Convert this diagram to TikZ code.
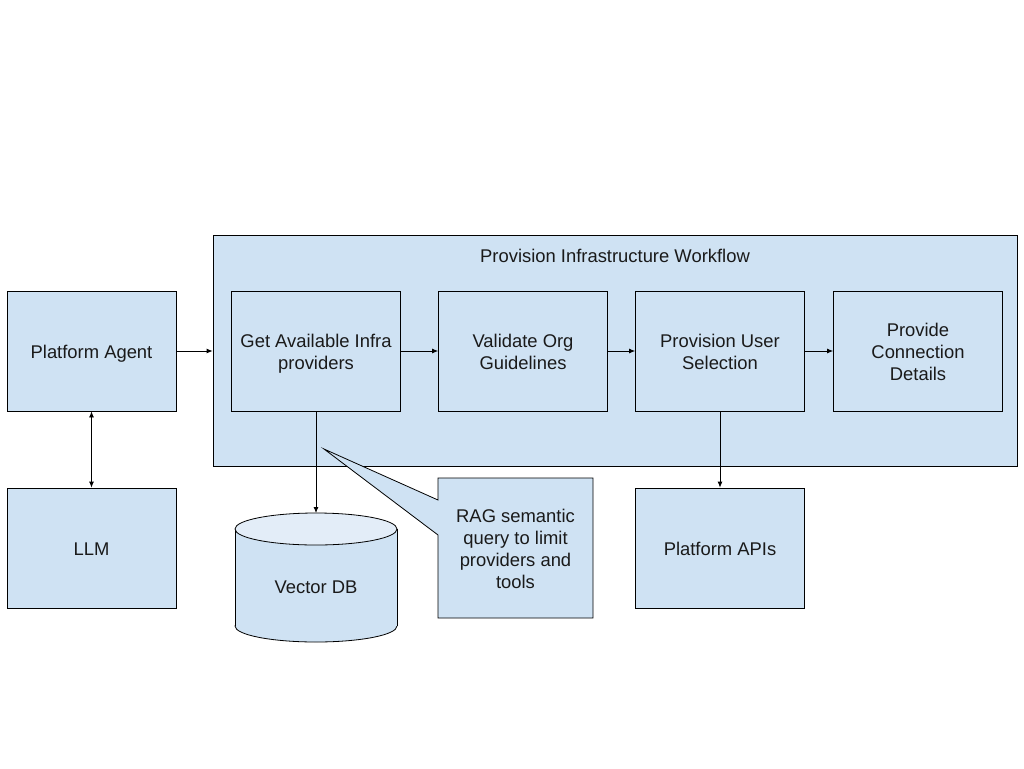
\documentclass[tikz,border=0pt]{standalone}
\usepackage{fontspec}
\setmainfont{Liberation Sans}
\usetikzlibrary{arrows.meta}
\definecolor{boxfill}{HTML}{CFE2F3}
\definecolor{topfill}{HTML}{E3EDF8}
\definecolor{txt}{HTML}{1A1A1A}
\newcommand\gstrut{\rule[-3.9pt]{0pt}{20.5pt}}
\begin{document}
\begin{tikzpicture}[x=1pt,y=-1pt,
  txtfont/.style={text=txt, font=\fontsize{18.4}{22}\selectfont,
    execute at begin node=\gstrut, execute at end node=\gstrut},
  box/.style={draw, fill=boxfill, line width=0.8pt, minimum width=169pt, minimum height=120pt,
    inner sep=0pt},
  container/.style={draw, fill=boxfill, line width=0.8pt, minimum width=804pt, minimum height=231pt, inner sep=0pt},
  lbl/.style={inner sep=0pt, align=center, txtfont},
  arr/.style={line width=0.8pt, -{Latex[length=6pt,width=5pt]}},
  darr/.style={line width=0.8pt, {Latex[length=6pt,width=5pt]}-{Latex[length=6pt,width=5pt]}}
]
\useasboundingbox (0,0) rectangle (1024,768);

% container
\node[container] (wf) at (615,350.5) {};
\node[lbl] (wftitle) at (615,256) {Provision Infrastructure Workflow};

% boxes
\node[box] (agent) at (91.5,351) {};
\node[box] (llm) at (91.5,548) {};
\node[box] (get) at (316,351) {};
\node[box] (val) at (523,351) {};
\node[box] (prov) at (720,351) {};
\node[box] (conn) at (918,351) {};
\node[box] (apis) at (720,548) {};

\node[lbl] (agentT) at ([yshift=-1.5pt]agent.center) {Platform Agent};
\node[lbl] (llmT) at ([yshift=-1.5pt]llm.center) {LLM};
\node[lbl] (getT) at ([yshift=-2.5pt]get.center) {Get Available Infra\\providers};
\node[lbl] (valT) at ([yshift=-2.5pt]val.center) {Validate Org\\Guidelines};
\node[lbl] (provT) at ([yshift=-2.5pt]prov.center) {Provision User\\Selection};
\node[lbl] (connT) at ([yshift=-2.5pt]conn.center) {Provide\\Connection\\Details};
\node[lbl] (apisT) at ([yshift=-1.5pt]apis.center) {Platform APIs};

% cylinder
\fill[boxfill] (316,626) ellipse [x radius=81pt, y radius=16pt];
\draw[line width=0.8pt] (316,626) ellipse [x radius=81pt, y radius=16pt];
\fill[boxfill] (235,529) rectangle (397,626);
\draw[line width=0.8pt] (235,529) -- (235,626) (397,529) -- (397,626);
\draw[line width=0.8pt, fill=topfill] (316,529) ellipse [x radius=81pt, y radius=16pt];
\coordinate (dbtop) at (316,513);
\node[lbl] (db) at (316,587.5) {Vector DB};

% callout
\draw[line width=0.8pt, fill=boxfill] (438,478) -- (593,478) -- (593,618) -- (438,618) -- (438,535) -- (324,449) -- (438,500) -- cycle;
\node[lbl] (rag) at (515.5,550.5) {RAG semantic\\query to limit\\providers and\\tools};

% connectors
\draw[arr] (agent.east) -- (agent.east -| wf.west);
\draw[arr] (get.east) -- (val.west);
\draw[arr] (val.east) -- (prov.west);
\draw[arr] (prov.east) -- (conn.west);
\draw[arr] (get.south) -- (dbtop);
\draw[arr] (prov.south) -- (apis.north);
\draw[darr] (agent.south) -- (llm.north);
\end{tikzpicture}
\end{document}
